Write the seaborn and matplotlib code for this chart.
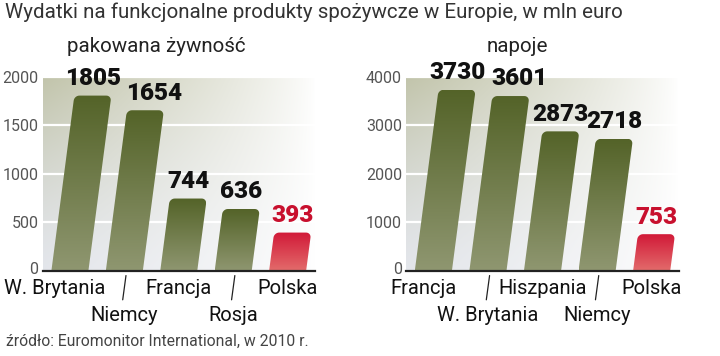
"""Wydatki na funkcjonalne produkty spożywcze w Europie — two slanted bar panels."""
import matplotlib

matplotlib.use("Agg")
import matplotlib.pyplot as plt
import matplotlib.transforms as mtransforms
import numpy as np
import pandas as pd
import seaborn as sns
from matplotlib.patches import Polygon

food_countries = ["W. Brytania", "Niemcy", "Francja", "Rosja", "Polska"]
food_values = [1805, 1654, 744, 636, 393]
food_ticks = [0, 500, 1000, 1500, 2000]

drink_countries = ["Francja", "W. Brytania", "Hiszpania", "Niemcy", "Polska"]
drink_values = [3730, 3601, 2873, 2718, 753]
drink_ticks = [0, 1000, 2000, 3000, 4000]

TEXT_FONT = ["Roboto", "DejaVu Sans"]
SKEW = 0.131  # horizontal px shift per px of bar height
RADIUS = 5.0  # px, rounded top corners

sns.set_theme(style="white")
plt.rcParams["font.family"] = TEXT_FONT

GREEN = (np.array([0.33, 0.39, 0.16]), np.array([0.56, 0.59, 0.44]))
RED = (np.array([0.82, 0.10, 0.22]), np.array([0.89, 0.42, 0.42]))


def _background(ax, ymax):
    tan = np.array([0.76, 0.77, 0.67])
    gray = np.array([0.89, 0.90, 0.92])
    ty = np.linspace(1, 0, 120)[:, None, None]
    fx = np.linspace(0, 1, 200)[None, :, None]
    base = ty ** 1.3 * tan + (1 - ty ** 1.3) * gray
    img = base * (1 - fx) ** 0.8 + np.ones(3) * (1 - (1 - fx) ** 0.8)
    ax.imshow(img, extent=(-0.5, 4.5, 0, ymax), aspect="auto", zorder=0,
              interpolation="bilinear")


def _slanted_bars(ax, highlight):
    """Replace seaborn's rectangles by slanted, rounded, gradient-filled bars."""
    inv = ax.transData.inverted()
    tops = []
    for i, p in enumerate(list(ax.patches)):
        x0, w, h = p.get_x(), p.get_width(), p.get_height()
        p.remove()
        (bx0, by0), (bx1, by1) = ax.transData.transform([(x0, 0), (x0 + w, h)])
        r = min(RADIUS, (by1 - by0) / 2)
        pts = [(bx0, by0), (bx1, by0)]
        for a in np.linspace(0, np.pi / 2, 8):
            pts.append((bx1 - r + r * np.cos(a), by1 - r + r * np.sin(a)))
        for a in np.linspace(np.pi / 2, np.pi, 8):
            pts.append((bx0 + r + r * np.cos(a), by1 - r + r * np.sin(a)))
        pts = np.array(pts)
        pts[:, 0] += SKEW * (pts[:, 1] - by0)
        data_pts = inv.transform(pts)
        poly = Polygon(data_pts, closed=True, facecolor="none", edgecolor="none")
        ax.add_patch(poly)
        top_c, bot_c = RED if i == highlight else GREEN
        t = np.linspace(0, 1, 64)[:, None, None]
        grad = top_c * (1 - t) + bot_c * t
        im = ax.imshow(grad, extent=(data_pts[:, 0].min(), data_pts[:, 0].max(), 0, h),
                       aspect="auto", zorder=2, interpolation="bilinear")
        im.set_clip_path(poly)
        top_x = inv.transform([((bx0 + bx1) / 2 + SKEW * (by1 - by0), by1)])[0][0]
        tops.append((top_x, h))
    return tops


def _shift(text, dx, dy):
    # offset in pixels (figure dpi = 100)
    text.set_transform(text.get_transform() + mtransforms.ScaledTranslation(
        dx / 100, dy / 100, text.figure.dpi_scale_trans))


def draw_panel(ax, countries, values, ticks, first_shift):
    df = pd.DataFrame({"kraj": countries, "wartosc": values})
    sns.barplot(data=df, x="kraj", y="wartosc", ax=ax, width=0.68, color="gray")
    ax.set_xlim(-0.5, 4.5)
    ax.set_ylim(0, ticks[-1])
    _background(ax, ticks[-1])
    for t in ticks[1:]:
        ax.axhline(t, color="white", lw=1.6, zorder=1)
    tops = _slanted_bars(ax, highlight=len(values) - 1)
    for i, ((tx, h), v) in enumerate(zip(tops, values)):
        ax.annotate(f"{v}", (tx, h), xytext=(6 if i == 1 else 0, 4),
                    textcoords="offset points",
                    ha="center", va="bottom", fontsize=17.5, fontweight="black",
                    color="#c8102e" if i == len(values) - 1 else "#111111",
                    annotation_clip=False, zorder=5)

    ax.set_yticks(ticks)
    ax.set_yticklabels([str(t) for t in ticks], color="#555555", fontsize=11.5)
    ax.tick_params(axis="y", length=0, pad=3)
    _shift(ax.get_yticklabels()[0], 0, 3)
    ax.set_xticks(range(len(countries)))
    ax.set_xticklabels(countries, fontsize=14.5, color="#111111")
    ax.tick_params(axis="x", length=0, pad=6)
    xlabels = ax.get_xticklabels()
    _shift(xlabels[0], first_shift, 0)
    for i in range(1, len(countries), 2):
        _shift(xlabels[i], 0, -27)
        ax.plot([i + 0.03, i - 0.03], [-0.025, -0.15], transform=ax.get_xaxis_transform(),
                color="#222222", lw=0.9, clip_on=False)
    for s in ("left", "right", "top"):
        ax.spines[s].set_visible(False)
    ax.spines["bottom"].set_color("#222222")
    ax.spines["bottom"].set_linewidth(1.6)
    ax.spines["bottom"].set_zorder(6)
    ax.set_xlabel("")
    ax.set_ylabel("")


fig = plt.figure(figsize=(7.2, 3.56), dpi=100)
ax1 = fig.add_axes([0.0593, 0.2396, 0.378, 0.545])
ax2 = fig.add_axes([0.564, 0.2396, 0.379, 0.545])
draw_panel(ax1, food_countries, food_values, food_ticks, first_shift=-15)
draw_panel(ax2, drink_countries, drink_values, drink_ticks, first_shift=-10)

fig.text(0.007, 0.965, "Wydatki na funkcjonalne produkty spożywcze w Europie, w mln euro",
         fontsize=14.8, color="#333333", ha="left", va="center")
fig.text(0.217, 0.868, "pakowana żywność", fontsize=14.8, color="#222222",
         ha="center", va="center")
fig.text(0.718, 0.868, "napoje", fontsize=14.8, color="#222222",
         ha="center", va="center")
fig.text(0.009, 0.04, "źródło: Euromonitor International, w 2010 r.",
         fontsize=11.3, color="#444444", ha="left", va="center")

fig.savefig("out.png", dpi=100)
